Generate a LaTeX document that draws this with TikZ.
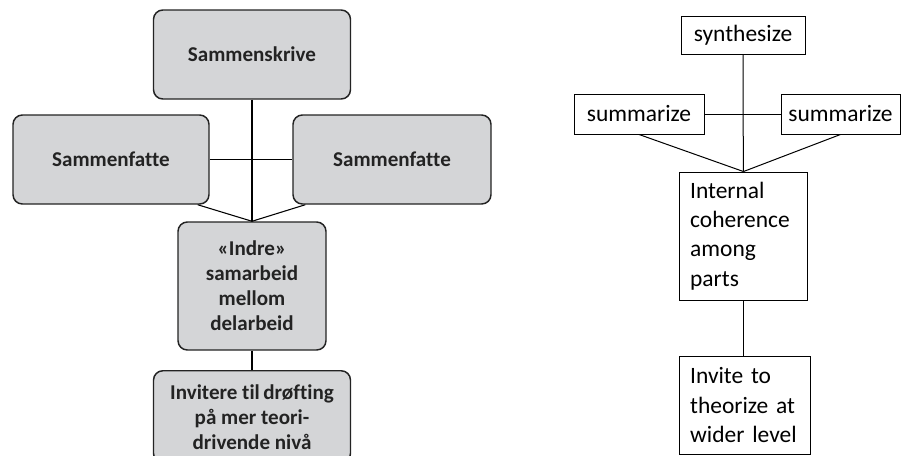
\documentclass[tikz,border=0pt]{standalone}
\usepackage{fontspec}
\setmainfont[Ligatures=NoCommon]{Carlito}
\usetikzlibrary{calc}
\definecolor{boxGray}{RGB}{212,213,215}
\definecolor{txtDark}{RGB}{35,35,35}

\begin{document}
\begin{tikzpicture}[x=0.75pt, y=-0.75pt,
    grbox/.style={draw=txtDark, line width=1.1pt, rounded corners=7pt, fill=boxGray, text=txtDark,
        align=center, inner sep=2pt, font=\fontsize{15.8}{18.75}\selectfont\bfseries},
    wbox/.style={draw, line width=0.7pt, inner sep=0pt, font=\fontsize{17.6}{22}\selectfont},
    wtext/.style={wbox, align=left, inner xsep=8pt},
    link/.style={line width=0.8pt}]
    \useasboundingbox (0,0) rectangle (905,455);
    % Norwegian version (left)
    \node[grbox,minimum width=147.75pt,minimum height=66.75pt](skr)at(252,54.5){Sammenskrive};
    \node[grbox,minimum width=147pt,minimum height=66.75pt](lsum)at(111,159.5){Sammenfatte};
    \node[grbox,minimum width=148.5pt,minimum height=66.75pt](rsum)at(392,159.5){Sammenfatte};
    \node[grbox,minimum width=111pt,minimum height=96pt](indre)at(252,286){«Indre»\\samarbeid\\mellom\\delarbeid};
    \node[grbox,minimum width=147.75pt,minimum height=69pt,anchor=north](inv)at(252,370){Invitere til\,drøfting\\på mer teori-\\drivende nivå};
    \draw[link](skr)--(indre);
    \draw[link](lsum)--(rsum);
    \draw[link]($(lsum.south east)+(-12,0)$)--(indre.north);
    \draw[link]($(rsum.south west)+(13,0)$)--(indre.north);
    \draw[link](indre)--(inv);
    % English version (right)
    \node[wbox,minimum width=93pt,minimum height=28.5pt](syn)at(743,35){synthesize};
    \node[wbox,minimum width=97.5pt,minimum height=30pt](suml)at(639,114){summarize};
    \node[wbox,minimum width=89.25pt,minimum height=30pt](sumr)at(840.5,114){summarize};
    \node[wtext,text width=80pt,minimum height=96pt,anchor=west](intc)at(679,236){Internal\\coherence\\among\\parts};
    \node[wtext,text width=82.25pt,minimum height=73.5pt,anchor=west](invt)at(679,405){Invite to\\theorize at\\wider level};
    \draw[link,line width=0.75pt](syn)--(intc);
    \draw[link,line width=0.75pt](suml)--(sumr);
    \draw[link,line width=0.75pt](suml.south)--(intc.north);
    \draw[link,line width=0.75pt](sumr.south)--(intc.north);
    \draw[link,line width=0.75pt](intc.south)--(intc.south|-invt.north);
\end{tikzpicture}
\end{document}
